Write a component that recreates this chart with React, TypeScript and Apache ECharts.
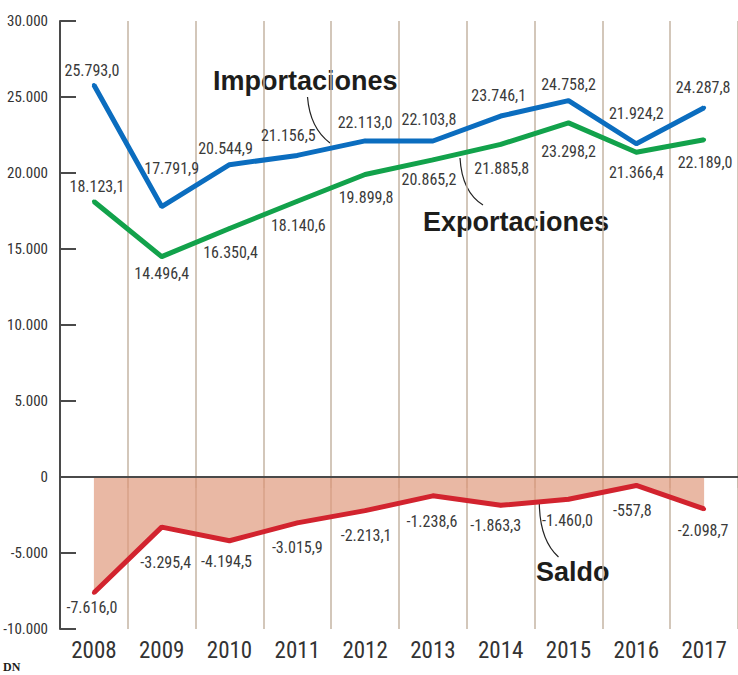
import React, { useEffect, useRef } from "react";
import * as echarts from "echarts";

const years = ["2008", "2009", "2010", "2011", "2012", "2013", "2014", "2015", "2016", "2017"];
const importaciones = [25793.0, 17791.9, 20544.9, 21156.5, 22113.0, 22103.8, 23746.1, 24758.2, 21924.2, 24287.8];
const exportaciones = [18123.1, 14496.4, 16350.4, 18140.6, 19899.8, 20865.2, 21885.8, 23298.2, 21366.4, 22189.0];
const saldo = [-7616.0, -3295.4, -4194.5, -3015.9, -2213.1, -1238.6, -1863.3, -1460.0, -557.8, -2098.7];

// label offsets (px) relative to each point
const impOff = [[-2, -14], [10, -38], [-4, -16], [-9, -20], [0, -18], [-4, -22], [-2, -21], [0, -16], [0, -30], [-1, -20]];
const expOff = [[3, -15], [0, 17], [1, 24], [1, 24], [1, 23], [-4, 20], [1, 24], [0, 29], [0, 20], [1, 23]];
const salOff = [[-2, 15], [4, 35], [-3, 21], [0, 25], [1, 25], [-1, 26], [-5, 20], [-1, 21], [-4, 25], [-1, 22]];

const NARROW = "'Roboto Condensed', 'Noto Sans ExtraCondensed', 'Noto Sans Condensed', 'Open Sans Condensed', 'Liberation Sans Narrow', 'DejaVu Sans Condensed', sans-serif";

function fmt(v: number, dec: number): string {
  const neg = v < 0;
  const a = Math.abs(v);
  const fixed = a.toFixed(dec);
  const [intPart, decPart] = fixed.split(".");
  const grouped = intPart.replace(/\B(?=(\d{3})+(?!\d))/g, ".");
  return (neg ? "-" : "") + grouped + (decPart !== undefined ? "," + decPart : "");
}

function buildData(vals: number[], offs: number[][]) {
  return vals.map((v, i) => ({
    value: v,
    label: { offset: offs[i] },
  }));
}

export default function App() {
  const ref = useRef<HTMLDivElement>(null);
  useEffect(() => {
    if (!ref.current) return;
    const chart = echarts.init(ref.current, undefined, { renderer: "svg" });
    const labelBase = {
      show: true,
      position: "inside",
      fontFamily: NARROW,
      fontSize: 16,
      color: "#3a3a3a",
      formatter: (p: any) => fmt(p.value, 1),
    };
    const option: any = {
      animation: false,
      backgroundColor: "#ffffff",
      grid: { left: 60, top: 21, width: 681, height: 608 },
      xAxis: {
        type: "category",
        data: years,
        boundaryGap: true,
        axisLine: { show: true, lineStyle: { color: "#4a4a4a", width: 2 } },
        axisTick: {
          show: true,
          length: 11,
          interval: (i: number) => i !== 0,
          lineStyle: { color: "#c5b4a3", width: 1.5 },
        },
        axisLabel: { fontFamily: NARROW, fontSize: 23, color: "#333333", margin: 10 },
        splitLine: { show: true, lineStyle: { color: "#c5b4a3", width: 1.5 } },
      },
      yAxis: {
        type: "value",
        min: -10000,
        max: 30000,
        interval: 5000,
        axisLine: { show: true, lineStyle: { color: "#4a4a4a", width: 2 } },
        axisTick: { show: true, inside: true, length: 16, lineStyle: { color: "#4a4a4a", width: 2 } },
        axisLabel: {
          fontFamily: NARROW,
          fontSize: 15,
          color: "#333333",
          margin: 12,
          formatter: (v: number) => fmt(v, 0),
        },
        splitLine: { show: false },
      },
      series: [
        {
          name: "Saldo",
          type: "line",
          data: buildData(saldo, salOff),
          symbol: "circle",
          symbolSize: 4,
          itemStyle: { color: "#d2232e" },
          lineStyle: { color: "#d2232e", width: 5 },
          areaStyle: { color: "#e09a7e", opacity: 0.7 },
          label: labelBase,
          z: 2,
          markLine: {
            silent: true,
            symbol: ["none", "none"],
            label: { show: false },
            lineStyle: { color: "#4a4a4a", width: 2, type: "solid" },
            data: [{ yAxis: 0 }],
          },
        },
        {
          name: "Exportaciones",
          type: "line",
          data: buildData(exportaciones, expOff),
          symbol: "circle",
          symbolSize: 4,
          itemStyle: { color: "#12a24b" },
          lineStyle: { color: "#12a24b", width: 5 },
          label: labelBase,
          z: 3,
        },
        {
          name: "Importaciones",
          type: "line",
          data: buildData(importaciones, impOff),
          symbol: "circle",
          symbolSize: 4,
          itemStyle: { color: "#0b6dbf" },
          lineStyle: { color: "#0b6dbf", width: 5 },
          label: labelBase,
          z: 4,
        },
      ],
      graphic: [
        {
          type: "text",
          x: 213,
          y: 81,
          style: {
            text: "Importaciones",
            font: "bold 27px 'Liberation Sans', Arial, sans-serif",
            fill: "#1d1d1b",
            textVerticalAlign: "middle",
          },
        },
        {
          type: "text",
          x: 423,
          y: 222,
          style: {
            text: "Exportaciones",
            font: "bold 27px 'Liberation Sans', Arial, sans-serif",
            fill: "#1d1d1b",
            textVerticalAlign: "middle",
          },
        },
        {
          type: "text",
          x: 536,
          y: 572,
          style: {
            text: "Saldo",
            font: "bold 27px 'Liberation Sans', Arial, sans-serif",
            fill: "#1d1d1b",
            textVerticalAlign: "middle",
          },
        },
        {
          type: "bezierCurve",
          shape: { x1: 307.5, y1: 97, x2: 330, y2: 143, cpx1: 310, cpy1: 128 },
          style: { stroke: "#222", lineWidth: 1.2, fill: "none" },
        },
        {
          type: "bezierCurve",
          shape: { x1: 460, y1: 158, x2: 483, y2: 205, cpx1: 462, cpy1: 192 },
          style: { stroke: "#222", lineWidth: 1.2, fill: "none" },
        },
        {
          type: "bezierCurve",
          shape: { x1: 539.3, y1: 502, x2: 558.5, y2: 557, cpx1: 539.5, cpy1: 540 },
          style: { stroke: "#222", lineWidth: 1.2, fill: "none" },
        },
        {
          type: "text",
          x: 3,
          y: 667,
          style: {
            text: "DN",
            font: "bold 12px 'Liberation Serif', 'DejaVu Serif', serif",
            fill: "#1d1d1b",
            textVerticalAlign: "middle",
          },
        },
      ],
    };
    chart.setOption(option);
    return () => chart.dispose();
  }, []);
  return (
    <div
      ref={ref}
      style={{ position: "absolute", left: 0, top: 0, width: 738, height: 675, background: "#fff" }}
    />
  );
}
